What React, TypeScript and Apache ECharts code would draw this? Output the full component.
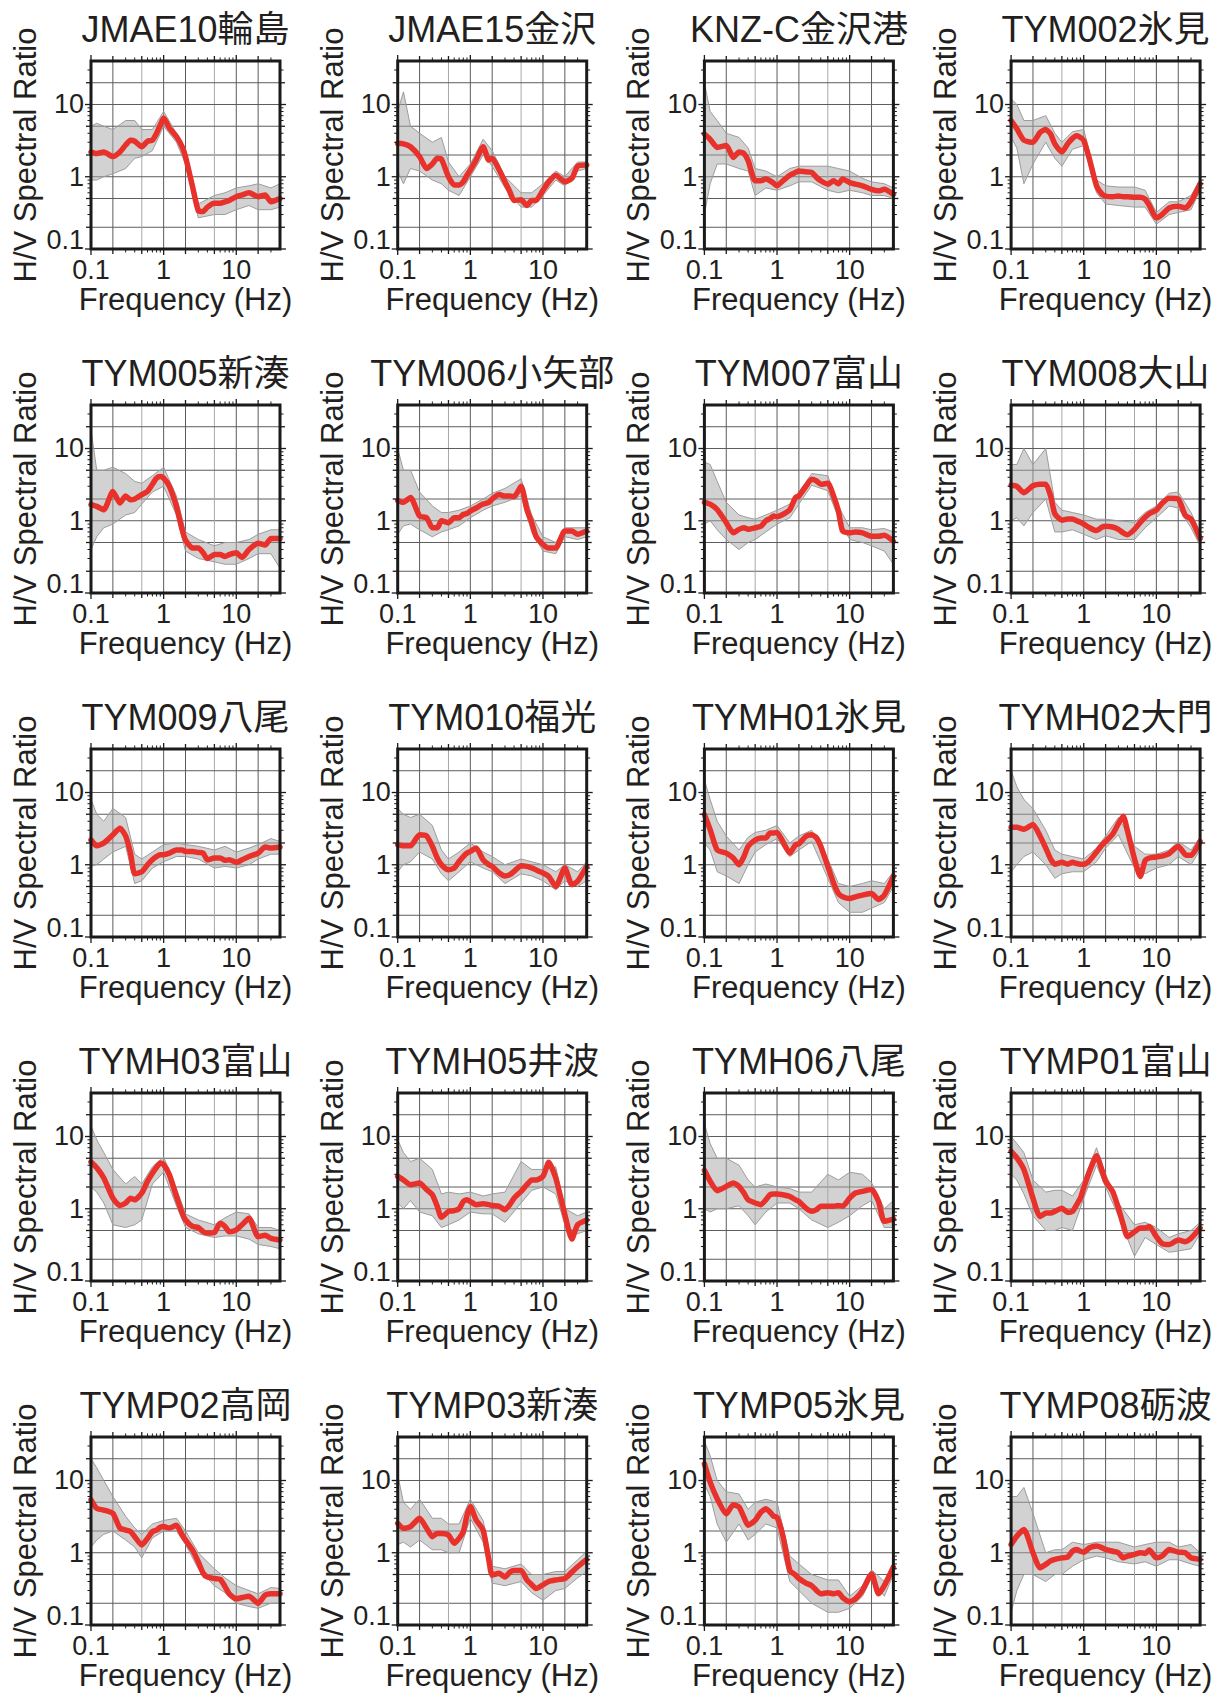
import React, { useEffect, useRef } from 'react';
import * as echarts from 'echarts';

// ---------- data ----------
const STATIONS = [
  'JMAE10輪島', 'JMAE15金沢', 'KNZ-C金沢港', 'TYM002氷見',
  'TYM005新湊', 'TYM006小矢部', 'TYM007富山', 'TYM008大山',
  'TYM009八尾', 'TYM010福光', 'TYMH01氷見', 'TYMH02大門',
  'TYMH03富山', 'TYMH05井波', 'TYMH06八尾', 'TYMP01富山',
  'TYMP02高岡', 'TYMP03新湊', 'TYMP05氷見', 'TYMP08砺波',
];

// frequencies (Hz) of the mean (red) curves
const FREQ = [0.1, 0.12, 0.15, 0.2, 0.25, 0.3, 0.35, 0.4, 0.5, 0.6, 0.7, 0.8, 0.9, 1, 1.2, 1.5, 1.8, 2, 2.5, 3, 3.5, 4, 5, 6, 7, 8, 10, 12, 15, 20, 25, 30, 40];

// mean H/V spectral ratio, one row per station
const MEAN_HV = [
  [2.2, 2.1, 2.2, 1.9, 2.2, 2.75, 3.2, 3.1, 2.6, 3.1, 3.2, 4.0, 5.2, 6.5, 4.7, 3.6, 2.6, 1.9, 0.73, 0.34, 0.33, 0.38, 0.43, 0.43, 0.45, 0.47, 0.53, 0.56, 0.6, 0.53, 0.56, 0.45, 0.5],
  [2.9, 2.85, 2.6, 1.9, 1.3, 1.5, 1.8, 1.75, 1.0, 0.77, 0.77, 0.85, 1.05, 1.24, 1.7, 2.6, 1.7, 1.8, 1.24, 0.85, 0.62, 0.47, 0.48, 0.4, 0.47, 0.47, 0.65, 0.85, 1.05, 0.85, 0.95, 1.4, 1.45],
  [3.9, 3.3, 2.55, 2.7, 1.85, 2.2, 2.1, 1.67, 0.88, 0.88, 0.93, 0.88, 0.81, 0.75, 0.88, 1.05, 1.15, 1.2, 1.17, 1.15, 0.98, 0.88, 0.79, 0.88, 0.8, 0.93, 0.83, 0.79, 0.75, 0.67, 0.64, 0.67, 0.57],
  [6.0, 4.6, 3.2, 3.0, 4.1, 4.5, 3.9, 2.85, 2.2, 2.85, 3.4, 3.7, 3.5, 3.2, 1.75, 0.75, 0.57, 0.54, 0.53, 0.54, 0.53, 0.53, 0.52, 0.52, 0.49, 0.4, 0.27, 0.3, 0.37, 0.39, 0.37, 0.45, 0.8],
  [1.67, 1.58, 1.42, 2.55, 1.76, 2.2, 1.95, 2.0, 2.3, 2.55, 3.2, 3.9, 4.1, 3.9, 3.0, 1.58, 0.75, 0.54, 0.42, 0.42, 0.36, 0.3, 0.34, 0.34, 0.32, 0.34, 0.36, 0.31, 0.4, 0.49, 0.46, 0.57, 0.57],
  [1.9, 1.8, 2.1, 1.16, 1.1, 0.8, 0.8, 1.0, 0.94, 1.1, 1.1, 1.22, 1.26, 1.36, 1.5, 1.7, 1.8, 2.0, 2.3, 2.2, 2.2, 2.15, 3.0, 1.43, 0.94, 0.61, 0.47, 0.42, 0.42, 0.72, 0.72, 0.65, 0.72],
  [1.8, 1.7, 1.43, 0.94, 0.68, 0.76, 0.8, 0.76, 0.8, 0.84, 1.0, 1.07, 1.16, 1.14, 1.22, 1.43, 2.1, 2.2, 3.0, 3.75, 3.55, 3.2, 3.3, 2.2, 1.36, 0.72, 0.68, 0.7, 0.68, 0.61, 0.61, 0.63, 0.52],
  [3.1, 3.0, 2.45, 3.05, 3.2, 3.2, 2.2, 1.25, 1.02, 1.06, 1.06, 1.0, 0.95, 0.9, 0.8, 0.73, 0.82, 0.84, 0.82, 0.76, 0.68, 0.64, 0.76, 0.95, 1.12, 1.25, 1.4, 1.75, 2.05, 2.0, 1.18, 1.06, 0.57],
  [2.2, 1.83, 2.0, 2.6, 3.2, 2.5, 1.45, 0.75, 0.8, 1.0, 1.17, 1.3, 1.38, 1.38, 1.45, 1.6, 1.6, 1.53, 1.53, 1.48, 1.45, 1.17, 1.24, 1.24, 1.15, 1.17, 1.08, 1.17, 1.3, 1.45, 1.76, 1.7, 1.76],
  [1.9, 1.83, 1.83, 2.6, 2.5, 1.8, 1.24, 1.0, 0.85, 0.9, 1.11, 1.3, 1.45, 1.53, 1.7, 1.17, 1.0, 0.95, 0.77, 0.7, 0.73, 0.81, 0.97, 0.95, 0.9, 0.85, 0.77, 0.69, 0.5, 0.9, 0.53, 0.59, 0.95],
  [4.95, 3.06, 1.6, 1.45, 1.24, 1.0, 1.3, 1.8, 2.2, 2.35, 2.35, 2.75, 2.75, 2.8, 2.1, 1.45, 1.9, 1.95, 2.47, 2.6, 2.35, 1.8, 0.95, 0.56, 0.4, 0.36, 0.34, 0.36, 0.38, 0.4, 0.33, 0.38, 0.69],
  [3.3, 3.3, 3.1, 3.6, 2.5, 1.7, 1.2, 1.02, 1.08, 1.02, 1.08, 1.04, 1.02, 1.02, 1.14, 1.5, 1.9, 2.1, 2.65, 3.7, 4.7, 2.95, 1.2, 0.69, 1.14, 1.24, 1.28, 1.32, 1.43, 1.8, 1.38, 1.35, 2.1],
  [4.45, 3.7, 2.66, 1.4, 1.11, 1.2, 1.4, 1.33, 1.65, 2.4, 3.1, 3.75, 4.3, 4.1, 2.95, 1.48, 0.87, 0.7, 0.57, 0.55, 0.48, 0.46, 0.47, 0.63, 0.57, 0.48, 0.51, 0.6, 0.74, 0.41, 0.43, 0.39, 0.37],
  [2.8, 2.5, 2.15, 2.27, 1.84, 1.56, 1.08, 0.76, 0.92, 0.94, 1.0, 1.26, 1.33, 1.26, 1.14, 1.17, 1.14, 1.11, 1.08, 0.97, 1.14, 1.4, 1.74, 2.15, 2.5, 2.5, 2.8, 4.4, 2.66, 0.83, 0.38, 0.6, 0.7],
  [3.4, 2.4, 1.78, 2.04, 2.27, 2.04, 1.65, 1.33, 1.2, 1.14, 1.33, 1.56, 1.6, 1.6, 1.56, 1.48, 1.33, 1.26, 1.02, 0.92, 0.97, 1.08, 1.08, 1.08, 1.11, 1.08, 1.4, 1.65, 1.74, 1.84, 1.26, 0.67, 0.72],
  [6.25, 5.05, 3.5, 1.4, 0.78, 0.87, 0.87, 0.92, 1.02, 0.89, 0.92, 1.14, 1.4, 1.94, 3.3, 5.4, 3.3, 2.4, 1.74, 1.02, 0.6, 0.41, 0.48, 0.54, 0.54, 0.57, 0.41, 0.33, 0.32, 0.37, 0.35, 0.39, 0.54],
  [5.4, 4.1, 3.9, 3.5, 2.2, 2.06, 1.96, 1.67, 1.28, 1.58, 1.96, 2.06, 2.25, 2.3, 2.2, 2.4, 1.76, 1.5, 1.09, 0.75, 0.52, 0.46, 0.44, 0.43, 0.34, 0.27, 0.23, 0.24, 0.25, 0.2, 0.26, 0.27, 0.27],
  [2.55, 2.18, 2.3, 3.0, 2.18, 1.67, 1.85, 1.85, 1.76, 1.35, 1.58, 1.96, 3.3, 4.35, 2.84, 2.06, 0.79, 0.49, 0.52, 0.46, 0.54, 0.57, 0.57, 0.42, 0.36, 0.32, 0.36, 0.4, 0.42, 0.44, 0.54, 0.64, 0.81],
  [17, 9.5, 5.6, 3.45, 4.6, 4.3, 3.1, 2.4, 2.8, 3.65, 4.05, 3.65, 3.2, 3.1, 1.74, 0.57, 0.49, 0.44, 0.38, 0.35, 0.3, 0.27, 0.28, 0.27, 0.28, 0.24, 0.21, 0.23, 0.3, 0.51, 0.27, 0.35, 0.63],
  [1.3, 1.7, 2.1, 1.0, 0.62, 0.69, 0.77, 0.81, 0.85, 0.87, 1.05, 1.11, 1.05, 1.02, 1.17, 1.24, 1.17, 1.11, 1.05, 1.0, 0.85, 0.9, 0.95, 1.0, 0.98, 1.09, 0.85, 0.9, 1.11, 1.02, 1.0, 0.85, 0.81],
];

// frequencies (Hz) of the envelope of the individual (gray) records
const BAND_FREQ = [0.1, 0.12, 0.15, 0.2, 0.3, 0.4, 0.5, 0.7, 1, 1.5, 2, 3, 5, 7, 10, 15, 20, 30, 40];

// upper envelope of the gray records
const BAND_HIGH = [
  [5, 5.5, 5, 4.5, 6, 6, 4.5, 4.5, 8, 4, 2.4, 0.42, 0.55, 0.6, 0.7, 0.75, 0.8, 0.7, 0.8],
  [8, 15, 5, 4, 3, 3.5, 1.6, 1.0, 1.5, 3.3, 2.3, 1.0, 0.6, 0.6, 0.8, 1.2, 1.0, 1.6, 1.6],
  [20, 8, 6, 4, 3.5, 2.5, 1.3, 1.2, 1.0, 1.3, 1.4, 1.4, 1.4, 1.3, 1.2, 0.95, 0.85, 0.8, 0.7],
  [12, 10, 6, 6, 7, 4, 3, 4.2, 4.5, 0.9, 0.75, 0.72, 0.72, 0.65, 0.32, 0.45, 0.45, 0.55, 0.9],
  [18, 5, 5, 5.5, 4.5, 3.5, 3.3, 4.2, 5.5, 2.2, 0.7, 0.55, 0.45, 0.5, 0.5, 0.55, 0.65, 0.75, 0.75],
  [10, 5, 5, 2.5, 1.6, 1.3, 1.3, 1.4, 1.6, 2, 2.4, 2.8, 3.8, 1.2, 0.6, 0.5, 0.8, 0.8, 0.8],
  [6.5, 6, 3.5, 1.8, 1.2, 1.1, 1.05, 1.2, 1.4, 1.7, 2.5, 4.5, 4.2, 1.6, 0.8, 0.8, 0.75, 0.78, 0.7],
  [6, 6, 10, 6, 10, 1.8, 1.4, 1.3, 1.2, 1.05, 1.05, 1.0, 0.95, 1.3, 1.6, 2.4, 2.5, 1.3, 0.7],
  [8, 5, 4, 6, 4.5, 1.4, 1.2, 1.5, 1.9, 2.0, 1.9, 1.8, 1.6, 1.8, 1.5, 1.7, 1.9, 2.3, 2.1],
  [6, 5, 4.5, 5, 3.5, 1.6, 1.2, 1.5, 2.0, 1.5, 1.3, 1.0, 1.2, 1.1, 1.0, 0.8, 1.0, 0.8, 1.1],
  [15, 8, 4, 2.5, 1.6, 2.4, 2.8, 3.0, 3.5, 2.0, 2.5, 3.0, 1.2, 0.55, 0.5, 0.55, 0.6, 0.55, 0.8],
  [20, 12, 8, 6, 3, 1.6, 1.4, 1.3, 1.2, 1.7, 2.5, 4.5, 1.8, 1.4, 1.4, 1.6, 2.1, 1.6, 2.4],
  [14, 9, 6, 3.5, 2.2, 2.8, 2.2, 3.8, 5.2, 1.9, 0.85, 0.7, 0.6, 0.75, 0.9, 0.85, 0.55, 0.55, 0.5],
  [9, 6, 4.5, 5, 3.5, 1.6, 1.7, 1.6, 1.7, 1.5, 1.6, 1.7, 4.5, 3.5, 3.5, 3.8, 1.0, 0.8, 0.9],
  [15, 8, 5, 5, 4, 2.5, 2, 2.2, 2, 1.9, 1.7, 1.7, 3.0, 2.5, 3.2, 3.0, 2.3, 1.0, 1.3],
  [10, 8, 6, 2.5, 1.7, 1.8, 1.8, 1.5, 2.5, 7, 3, 1.2, 0.6, 0.65, 0.55, 0.4, 0.45, 0.5, 0.65],
  [20, 15, 10, 6, 3.2, 2.2, 1.8, 2.5, 2.8, 3.0, 2.0, 1.0, 0.6, 0.45, 0.35, 0.3, 0.27, 0.33, 0.32],
  [12, 5, 4, 5.5, 3, 3, 2.5, 2.5, 5.5, 2.8, 0.65, 0.6, 0.7, 0.5, 0.5, 0.55, 0.55, 0.8, 1.05],
  [35, 22, 10, 7, 6.5, 4, 5, 5.5, 5, 0.9, 0.7, 0.5, 0.42, 0.42, 0.25, 0.35, 0.58, 0.4, 0.75],
  [6, 6, 8, 3.5, 1.0, 1.1, 1.1, 1.4, 1.3, 1.4, 1.4, 1.4, 1.2, 1.3, 1.4, 1.4, 1.2, 1.3, 1.0],
];

// lower envelope of the gray records
const BAND_LOW = [
  [0.9, 0.9, 1.0, 1.1, 1.3, 1.8, 1.9, 2.3, 5, 3, 1.5, 0.27, 0.3, 0.3, 0.35, 0.4, 0.35, 0.35, 0.38],
  [1.2, 0.8, 1.3, 1.2, 0.9, 0.8, 0.65, 0.55, 1.0, 2.0, 1.4, 0.7, 0.38, 0.38, 0.55, 0.9, 0.75, 1.2, 1.3],
  [0.3, 0.8, 1.5, 1.5, 1.3, 1.2, 0.55, 0.7, 0.65, 0.75, 0.85, 0.85, 0.65, 0.6, 0.65, 0.6, 0.55, 0.55, 0.5],
  [3.5, 2.5, 0.8, 1.5, 3, 1.8, 1.4, 2.4, 2.7, 0.6, 0.42, 0.4, 0.38, 0.38, 0.22, 0.3, 0.32, 0.35, 0.65],
  [0.4, 0.6, 0.8, 0.9, 1.2, 1.3, 1.7, 2.5, 3.0, 1.2, 0.38, 0.3, 0.27, 0.25, 0.25, 0.3, 0.35, 0.35, 0.22],
  [0.65, 0.85, 0.9, 0.75, 0.6, 0.7, 0.75, 0.85, 1.1, 1.4, 1.6, 1.8, 2.2, 0.7, 0.38, 0.35, 0.6, 0.55, 0.6],
  [0.9, 1.0, 0.75, 0.55, 0.4, 0.5, 0.55, 0.7, 0.9, 1.1, 1.7, 3.1, 2.6, 1.1, 0.55, 0.5, 0.45, 0.38, 0.25],
  [1.0, 1.1, 0.85, 1.3, 2.0, 0.7, 0.7, 0.75, 0.65, 0.55, 0.62, 0.55, 0.55, 0.8, 1.1, 1.6, 1.5, 0.8, 0.45],
  [0.95, 1.0, 1.2, 1.5, 1.8, 0.55, 0.6, 0.9, 1.1, 1.3, 1.3, 1.2, 0.9, 0.95, 0.9, 1.0, 1.2, 1.4, 1.4],
  [0.8, 1.0, 1.1, 1.5, 1.2, 0.75, 0.6, 0.8, 1.1, 0.9, 0.8, 0.55, 0.75, 0.7, 0.6, 0.45, 0.6, 0.5, 0.6],
  [2.0, 1.6, 0.8, 0.7, 0.55, 1.0, 1.5, 1.9, 2.3, 1.3, 1.6, 2.1, 0.65, 0.3, 0.22, 0.22, 0.25, 0.3, 0.5],
  [0.8, 1.0, 1.3, 1.5, 1.0, 0.65, 0.75, 0.8, 0.8, 1.1, 1.7, 2.6, 0.9, 0.75, 0.9, 1.0, 1.3, 1.0, 1.6],
  [2.0, 1.7, 1.2, 0.6, 0.55, 0.6, 0.7, 2.2, 3.2, 1.1, 0.55, 0.45, 0.4, 0.42, 0.42, 0.38, 0.32, 0.3, 0.28],
  [1.2, 1.0, 1.3, 0.9, 0.8, 0.55, 0.6, 0.7, 0.9, 0.85, 0.85, 0.65, 1.2, 1.8, 2.0, 1.6, 0.6, 0.45, 0.5],
  [1.0, 0.9, 1.0, 1.0, 1.1, 0.8, 0.6, 0.9, 1.2, 1.2, 1.0, 0.7, 0.55, 0.65, 0.8, 1.1, 1.3, 0.55, 0.55],
  [3.0, 2.5, 1.6, 0.8, 0.5, 0.5, 0.55, 0.5, 1.4, 4.0, 2.0, 0.8, 0.22, 0.4, 0.32, 0.25, 0.26, 0.28, 0.45],
  [1.2, 1.5, 1.8, 2.0, 1.5, 1.2, 0.85, 1.6, 2.0, 2.0, 1.3, 0.6, 0.35, 0.28, 0.2, 0.18, 0.17, 0.2, 0.2],
  [1.3, 1.4, 1.2, 1.5, 1.1, 1.1, 1.0, 1.0, 3.0, 1.4, 0.38, 0.35, 0.4, 0.28, 0.22, 0.3, 0.32, 0.45, 0.55],
  [9, 6, 2.5, 1.4, 2.5, 1.5, 1.8, 2.5, 2.2, 0.4, 0.3, 0.2, 0.15, 0.15, 0.17, 0.25, 0.45, 0.25, 0.5],
  [0.15, 0.3, 0.5, 0.5, 0.4, 0.5, 0.5, 0.65, 0.8, 0.9, 0.85, 0.75, 0.7, 0.75, 0.65, 0.8, 0.8, 0.7, 0.65],
];

const TICK_VALUES = [0.1, 1, 10];
const X_TICK_LABELS = ['0.1', '1', '10'];
const Y_TICK_LABELS = ['0.1', '1', '10'];
const GRID_VALUES = [0.2, 0.5, 1, 2, 5, 10, 20];
const LIGHT_GRID_X = [0.5, 5];
const AXIS_MIN = 0.1;
const AXIS_MAX = 40;
const X_NAME = 'Frequency (Hz)';
const Y_NAME = 'H/V Spectral Ratio';

// ---------- style / layout ----------
const FONT = "'Liberation Sans', Arial, Helvetica, 'Noto Sans CJK JP', sans-serif";
const TEXT = '#231f20';
const RED = '#e8312b';
const GRAY = '#9c9c9c';
const COLS = 4;
const PLOT_LEFT = 91;
const COL_STEP = 306.7;
const PLOT_TOP = 61;
const ROW_STEP = 344;
const PLOT_W = 189;
const PLOT_H = 188;

const TICK_POS: { v: number; len: number }[] = [];
for (const d of [0.1, 1, 10]) {
  for (let m = 1; m <= 9; m++) {
    const v = Number((m * d).toPrecision(3));
    if (v < AXIS_MAX) TICK_POS.push({ v, len: m === 1 ? 6 : m === 2 || m === 5 ? 5 : 3.5 });
  }
}

function tickIndex(v: number) {
  const lv = Math.log10(v);
  for (let i = 0; i < TICK_VALUES.length; i++) {
    if (Math.abs(Math.log10(TICK_VALUES[i]) - lv) < 1e-6) return i;
  }
  return -1;
}

function buildOption() {
  const grid: any[] = [];
  const xAxis: any[] = [];
  const yAxis: any[] = [];
  const series: any[] = [];
  const title: any[] = [];

  STATIONS.forEach((name, i) => {
    const col = i % COLS;
    const row = Math.floor(i / COLS);
    const left = PLOT_LEFT + col * COL_STEP;
    const top = PLOT_TOP + row * ROW_STEP;

    grid.push({ left, top, width: PLOT_W, height: PLOT_H, show: true, borderWidth: 0, backgroundColor: '#fff' });

    title.push({
      text: name,
      left: left + PLOT_W / 2,
      top: top - 49.5,
      textAlign: 'center',
      padding: 0,
      textStyle: { fontSize: 36, fontWeight: 'normal', color: TEXT, fontFamily: FONT },
    });

    xAxis.push({
      type: 'log', logBase: 10, gridIndex: i, min: AXIS_MIN, max: AXIS_MAX,
      axisLine: { show: false }, axisTick: { show: false }, splitLine: { show: false },
      axisLabel: {
        formatter: (v: number) => {
          const k = tickIndex(v);
          return k < 0 ? '' : X_TICK_LABELS[k];
        },
        fontSize: 27, color: TEXT, fontFamily: FONT, margin: 7,
      },
      name: X_NAME, nameLocation: 'middle', nameGap: 32,
      nameTextStyle: { fontSize: 31, color: TEXT, fontFamily: FONT },
    });
    yAxis.push({
      type: 'log', logBase: 10, gridIndex: i, min: AXIS_MIN, max: AXIS_MAX,
      axisLine: { show: false }, axisTick: { show: false }, splitLine: { show: false },
      axisLabel: {
        formatter: (v: number) => {
          const k = tickIndex(v);
          if (k < 0) return '';
          return k === 0 ? '{lo|' + Y_TICK_LABELS[k] + '}' : Y_TICK_LABELS[k];
        },
        rich: { lo: { fontSize: 27, color: TEXT, fontFamily: FONT, padding: [0, 0, 18, 0] } },
        fontSize: 27, color: TEXT, fontFamily: FONT, margin: 7,
      },
      name: Y_NAME, nameLocation: 'middle', nameGap: 50, nameRotate: 90,
      nameTextStyle: { fontSize: 31, color: TEXT, fontFamily: FONT },
    });

    // grid lines
    series.push({
      type: 'custom', xAxisIndex: i, yAxisIndex: i, z: 1, silent: true, data: [[1, 1]],
      renderItem: (params: any, api: any) => {
        const cs = params.coordSys;
        const children: any[] = [];
        GRID_VALUES.forEach((v) => {
          const x = api.coord([v, 1])[0];
          children.push({
            type: 'line', shape: { x1: x, y1: cs.y, x2: x, y2: cs.y + cs.height },
            style: { stroke: LIGHT_GRID_X.includes(v) ? '#a8a8a8' : '#5c5c5c', lineWidth: 1 },
          });
          const y = api.coord([1, v])[1];
          children.push({
            type: 'line', shape: { x1: cs.x, y1: y, x2: cs.x + cs.width, y2: y },
            style: { stroke: '#5c5c5c', lineWidth: 1 },
          });
        });
        return { type: 'group', children };
      },
    });

    // envelope of individual records
    series.push({
      type: 'custom', xAxisIndex: i, yAxisIndex: i, z: 2, silent: true, data: [[1, 1]],
      renderItem: (params: any, api: any) => {
        const hi = BAND_FREQ.map((f, k) => api.coord([f, BAND_HIGH[i][k]]));
        const lo = BAND_FREQ.map((f, k) => api.coord([f, BAND_LOW[i][k]])).reverse();
        return { type: 'polygon', shape: { points: hi.concat(lo) }, style: { fill: 'rgba(165,165,165,0.5)' } };
      },
    });
    [BAND_HIGH[i], BAND_LOW[i]].forEach((arr) => {
      series.push({
        type: 'line', xAxisIndex: i, yAxisIndex: i, z: 3, silent: true, showSymbol: false,
        data: BAND_FREQ.map((f, k) => [f, arr[k]]),
        lineStyle: { color: GRAY, width: 1 },
      });
    });

    // mean curve
    series.push({
      type: 'line', xAxisIndex: i, yAxisIndex: i, z: 4, silent: true, showSymbol: false, smooth: 0.2,
      data: FREQ.map((f, k) => [f, MEAN_HV[i][k]]),
      lineStyle: { color: RED, width: 5.5, join: 'round', cap: 'round' },
    });

    // frame + ticks
    series.push({
      type: 'custom', xAxisIndex: i, yAxisIndex: i, z: 6, silent: true, data: [[1, 1]],
      renderItem: (params: any, api: any) => {
        const cs = params.coordSys;
        const children: any[] = [];
        TICK_POS.forEach(({ v, len }) => {
          const x = api.coord([v, 1])[0];
          const y = api.coord([1, v])[1];
          const st = { stroke: '#1a1a1a', lineWidth: len >= 5 ? 1.3 : 1 };
          children.push({ type: 'line', shape: { x1: x, y1: cs.y, x2: x, y2: cs.y - len }, style: st });
          children.push({ type: 'line', shape: { x1: x, y1: cs.y + cs.height, x2: x, y2: cs.y + cs.height + len }, style: st });
          children.push({ type: 'line', shape: { x1: cs.x, y1: y, x2: cs.x - len, y2: y }, style: st });
          children.push({ type: 'line', shape: { x1: cs.x + cs.width, y1: y, x2: cs.x + cs.width + len, y2: y }, style: st });
        });
        children.push({
          type: 'rect', shape: { x: cs.x, y: cs.y, width: cs.width, height: cs.height },
          style: { fill: 'none', stroke: '#1a1a1a', lineWidth: 3 },
        });
        return { type: 'group', children };
      },
    });
  });

  return { animation: false, backgroundColor: '#fff', title, grid, xAxis, yAxis, series };
}

export default function App() {
  const ref = useRef<HTMLDivElement>(null);
  useEffect(() => {
    if (!ref.current) return;
    const chart = echarts.init(ref.current, null, { renderer: 'svg' });
    chart.setOption(buildOption() as any);
    return () => chart.dispose();
  }, []);
  return (
    <div
      ref={ref}
      style={{ position: 'absolute', left: 0, top: 0, width: 1215, height: 1695, background: '#fff' }}
    />
  );
}
